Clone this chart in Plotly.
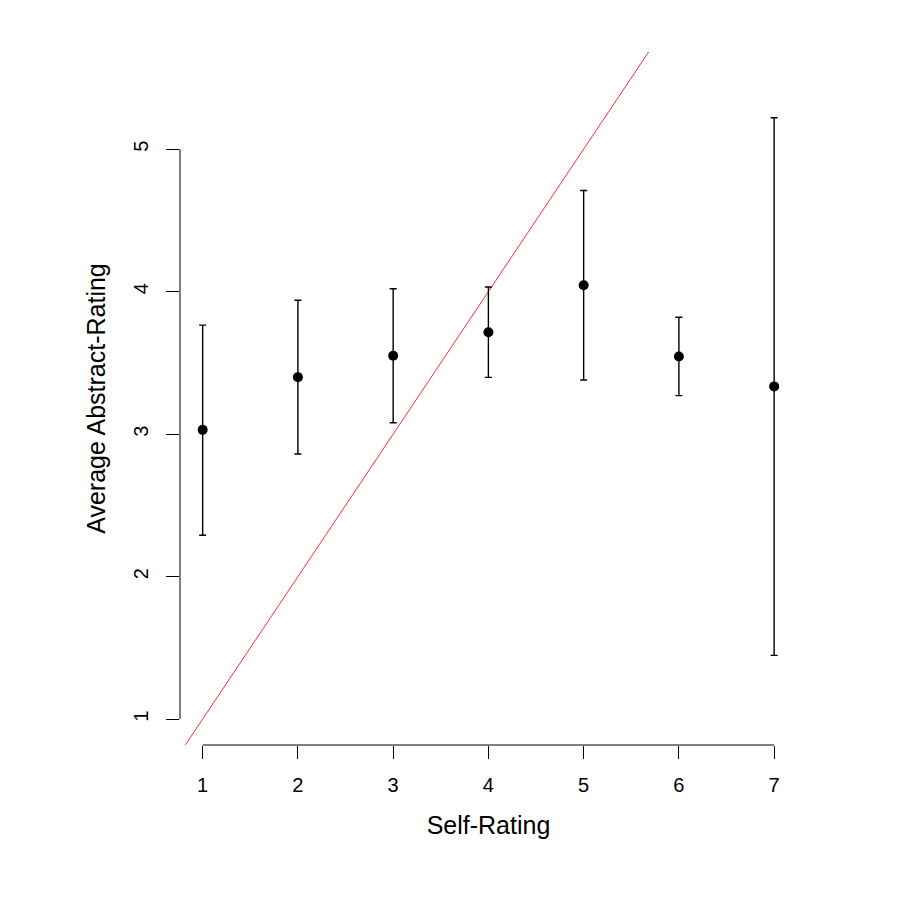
import plotly.graph_objects as go

self_rating = [1, 2, 3, 4, 5, 6, 7]
avg_rating = [3.03, 3.40, 3.55, 3.715, 4.045, 3.545, 3.335]
err_upper = [3.765, 3.94, 4.02, 4.033, 4.71, 3.82, 5.22]
err_lower = [2.29, 2.86, 3.08, 3.398, 3.38, 3.27, 1.447]
x_ticks = [1, 2, 3, 4, 5, 6, 7]
y_ticks = [1, 2, 3, 4, 5]
ref_line = [0, 10]

plus = [u - m for u, m in zip(err_upper, avg_rating)]
minus = [m - l for m, l in zip(avg_rating, err_lower)]

font = "Liberation Sans, Arial, sans-serif"

fig = go.Figure()
fig.add_trace(go.Scatter(
    x=ref_line, y=ref_line, mode="lines",
    line=dict(color="#ff3030", width=1), hoverinfo="skip"))
fig.add_trace(go.Scatter(
    x=self_rating, y=avg_rating, mode="markers",
    marker=dict(color="black", size=10),
    error_y=dict(type="data", symmetric=False, array=plus, arrayminus=minus,
                 color="black", thickness=1.4, width=3.5),
    cliponaxis=False))

# axis lines spanning only the tick range (R style)
fig.add_shape(type="line", xref="x", yref="paper", x0=x_ticks[0], x1=x_ticks[-1],
              y0=0, y1=0, line=dict(color="black", width=1))
fig.add_shape(type="line", xref="paper", yref="y", x0=0, x1=0,
              y0=y_ticks[0], y1=y_ticks[-1], line=dict(color="black", width=1))

fig.update_layout(
    width=900, height=900,
    margin=dict(l=172, r=111, t=44, b=163),
    paper_bgcolor="white", plot_bgcolor="white",
    showlegend=False,
    font=dict(family=font, color="black", size=16),
    xaxis=dict(range=[0.762, 7.24], tickvals=x_ticks, ticks="outside", ticklen=13,
               tickwidth=1, tickcolor="black", showgrid=False, zeroline=False,
               showline=False, tickfont=dict(size=20), ticklabelstandoff=9,
               title=dict(text="Self-Rating", font=dict(size=25), standoff=21)),
    yaxis=dict(range=[0.818, 5.682], tickvals=y_ticks, ticks="outside", ticklen=13,
               tickwidth=1, tickcolor="black", showgrid=False, zeroline=False,
               showline=False, tickangle=-90, tickfont=dict(size=20), ticklabelstandoff=10,
               title=dict(text="Average Abstract-Rating", font=dict(size=25), standoff=17)),
)

fig.write_html("out.html")
